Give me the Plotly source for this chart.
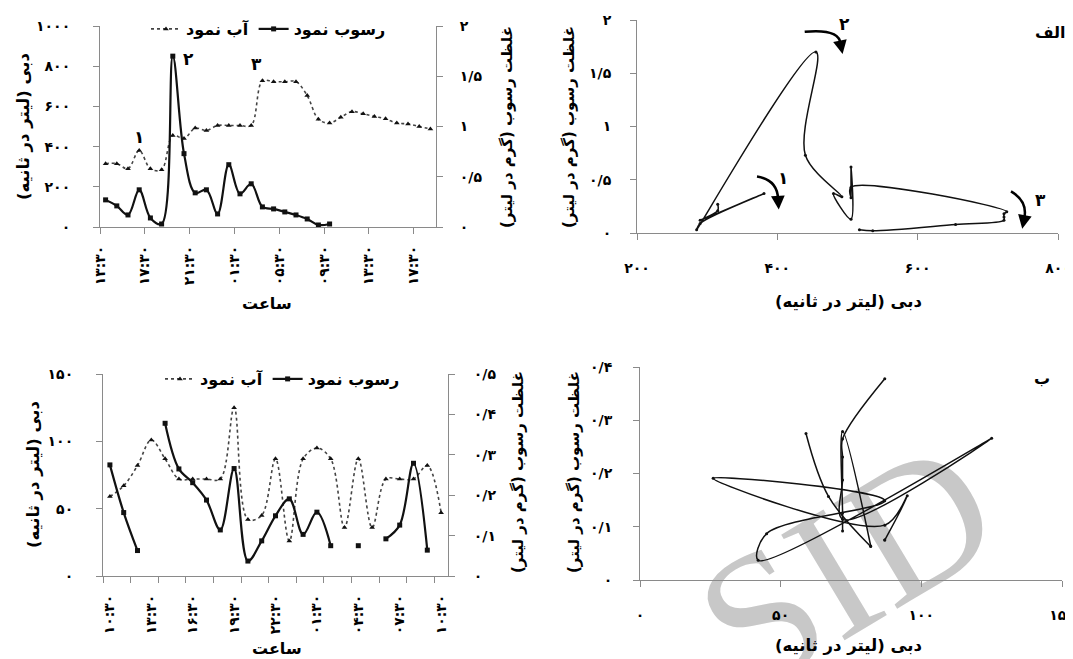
import plotly.graph_objects as go

W, H = 1073, 659          # browser window
OFF = 8                   # default page margin around the plot div
FW, FH = W - OFF, H - OFF # figure size so that it ends at the window edge
FONT = "DejaVu Sans"
AX = "#8a8a8a"

# ---------------- Event A (top row, "الف") ----------------
A_HOURS = [0.5, 1.5, 2.5, 3.5, 4.5, 5.5, 6.5, 7.5, 8.5, 9.5,
           10.5, 11.5, 12.5, 13.5, 14.5, 15.5, 16.5, 17.5, 18.5, 19.5,
           20.5, 21.5, 22.5, 23.5, 24.5, 25.5, 26.5, 27.5, 28.5, 29.5]
A_WATER = [315, 315, 290, 381, 290, 285, 455, 440, 492, 480,
           505, 505, 505, 505, 727, 723, 723, 723, 654, 536,
           517, 546, 574, 563, 550, 538, 517, 513, 500, 488]
A_SED = [0.27, 0.21, 0.12, 0.37, 0.09, 0.03, 1.70, 0.73, 0.34, 0.37,
         0.13, 0.62, 0.33, 0.43, 0.20, 0.18, 0.15, 0.12, 0.08, 0.02, 0.03]
A_TICK_HOURS = [0, 4, 8, 12, 16, 20, 24, 28]
A_TICK_LABELS = ["۱۳:۳۰", "۱۷:۳۰", "۲۱:۳۰", "۰۱:۳۰", "۰۵:۳۰", "۰۹:۳۰", "۱۳:۳۰", "۱۷:۳۰"]
A_Q_TICKS = [0, 200, 400, 600, 800, 1000]
A_Q_LABELS = ["۰", "۲۰۰", "۴۰۰", "۶۰۰", "۸۰۰", "۱۰۰۰"]
A_C_TICKS = [0, 0.5, 1, 1.5, 2]
A_C_LABELS = ["۰", "۰/۵", "۱", "۱/۵", "۲"]
A_HQ_TICKS = [200, 400, 600, 800]
A_HQ_LABELS = ["۲۰۰", "۴۰۰", "۶۰۰", "۸۰۰"]

# ---------------- Event B (bottom row, "ب") ----------------
B_HOURS = [0, 1, 2, 3, 4, 5, 6, 7, 8, 9, 10, 11, 12,
           13, 14, 15, 16, 17, 18, 19, 20, 21, 22, 23, 24]
B_WATER = [59, 67, 82, 101, 87, 72, 72, 72, 72, 125, 42, 45, 87,
           26, 87, 95, 87, 36, 87, 36, 72, 72, 72, 82, 47]
B_SED = [0.275, 0.157, 0.063, None, 0.378, 0.265, 0.231, 0.188, 0.114, 0.266, 0.037, 0.087, 0.149,
         0.191, 0.103, 0.158, 0.075, None, 0.075, None, 0.092, 0.126, 0.279, 0.064, None]
B_TICK_HOURS = [0, 3, 6, 9, 12, 15, 18, 21, 24]
B_TICK_LABELS = ["۱۰:۳۰", "۱۳:۳۰", "۱۶:۳۰", "۱۹:۳۰", "۲۲:۳۰", "۰۱:۳۰", "۰۴:۳۰", "۰۷:۳۰", "۱۰:۳۰"]
B_MINOR_TICKS = [-0.5, 1.5, 3.5, 5.5, 7.5, 9.5, 11.5, 13.5, 15.5, 17.5, 19.5, 21.5, 23.5]
B_Q_TICKS = [0, 50, 100, 150]
B_Q_LABELS = ["۰", "۵۰", "۱۰۰", "۱۵۰"]
B_C_TICKS = [0, 0.1, 0.2, 0.3, 0.4, 0.5]
B_C_LABELS = ["۰", "۰/۱", "۰/۲", "۰/۳", "۰/۴", "۰/۵"]

NAME_WATER = "آب نمود"
NAME_SED = "رسوب نمود"
TITLE_Q = "دبی (لیتر در ثانیه)"
TITLE_C = "غلظت رسوب (گرم در لیتر)"
TITLE_T = "ساعت"


def X(px):
    return (px - OFF) / FW


def Y(py):
    return 1 - (py - OFF) / FH


fig = go.Figure()

water_style = dict(mode="lines+markers", line=dict(color="#444444", width=1.6, dash="dot", shape="spline"),
                   marker=dict(symbol="triangle-up", size=5, color="#111111"))
sed_style = dict(mode="lines+markers", line=dict(color="#111111", width=2.2, shape="spline"),
                 marker=dict(symbol="square", size=5, color="#111111"))
hyst_style = dict(mode="lines+markers", line=dict(color="#111111", width=1.5, shape="spline"),
                  marker=dict(symbol="circle", size=3, color="#111111"), showlegend=False)

fig.add_trace(go.Scatter(x=A_HOURS, y=A_WATER, name=NAME_WATER, xaxis="x", yaxis="y", legend="legend", **water_style))
fig.add_trace(go.Scatter(x=A_HOURS[:len(A_SED)], y=A_SED, name=NAME_SED, xaxis="x", yaxis="y2", legend="legend", **sed_style))
fig.add_trace(go.Scatter(x=A_WATER[:len(A_SED)], y=A_SED, xaxis="x2", yaxis="y3", **hyst_style))
fig.add_trace(go.Scatter(x=B_HOURS, y=B_WATER, name=NAME_WATER, xaxis="x3", yaxis="y4", legend="legend2", **water_style))
fig.add_trace(go.Scatter(x=B_HOURS, y=B_SED, name=NAME_SED, xaxis="x3", yaxis="y5", legend="legend2",
                         connectgaps=False, **sed_style))
fig.add_trace(go.Scatter(x=B_WATER, y=B_SED, xaxis="x4", yaxis="y6", connectgaps=False, **hyst_style))

tickfont = dict(family=FONT, size=14, color="black", weight="bold")
base = dict(showline=True, linecolor=AX, linewidth=1, ticks="outside", ticklen=6, tickcolor=AX,
            showgrid=False, zeroline=False, tickfont=tickfont, tickmode="array", fixedrange=True,
            automargin=False, ticklabeloverflow="allow")

fig.update_layout(
    width=FW, height=FH, margin=dict(l=0, r=0, t=0, b=0, autoexpand=False),
    paper_bgcolor="white", plot_bgcolor="rgba(0,0,0,0)",
    font=dict(family=FONT, color="black"),
    xaxis=dict(base, domain=[X(100), X(436)], anchor="y", range=[0, 30],
               tickvals=A_TICK_HOURS, ticktext=A_TICK_LABELS, tickangle=-90, ticklabelstandoff=6),
    yaxis=dict(base, domain=[Y(227), Y(26)], anchor="x", range=[0, 1000],
               tickvals=A_Q_TICKS, ticktext=A_Q_LABELS, ticklabelstandoff=20),
    yaxis2=dict(base, overlaying="y", side="right", anchor="x", range=[0, 2],
                tickvals=A_C_TICKS, ticktext=A_C_LABELS, ticklabelstandoff=14),
    xaxis2=dict(base, domain=[X(637), X(1058)], anchor="y3", range=[200, 800],
                tickvals=A_HQ_TICKS, ticktext=A_HQ_LABELS, ticklabelstandoff=16),
    yaxis3=dict(base, domain=[Y(233), Y(20)], anchor="x2", range=[0, 2],
                tickvals=A_C_TICKS, ticktext=A_C_LABELS, ticklabelstandoff=16),
    xaxis3=dict(base, domain=[X(103), X(448)], anchor="y4", range=[-0.5, 24.5],
                tickvals=B_TICK_HOURS, ticktext=B_TICK_LABELS, tickangle=-90, ticks="",
                ticklabelstandoff=12,
                minor=dict(tickmode="array", tickvals=B_MINOR_TICKS, ticks="outside", ticklen=6,
                           tickcolor=AX, showgrid=False)),
    yaxis4=dict(base, domain=[Y(576), Y(374)], anchor="x3", range=[0, 150],
                tickvals=B_Q_TICKS, ticktext=B_Q_LABELS, ticklabelstandoff=20),
    yaxis5=dict(base, overlaying="y4", side="right", anchor="x3", range=[0, 0.5],
                tickvals=B_C_TICKS, ticktext=B_C_LABELS, ticklabelstandoff=16),
    xaxis4=dict(base, domain=[X(640), X(1062)], anchor="y6", range=[0, 150],
                tickvals=B_Q_TICKS, ticktext=B_Q_LABELS, ticklabelstandoff=16),
    yaxis6=dict(base, domain=[Y(580), Y(367)], anchor="x4", range=[0, 0.4],
                tickvals=B_C_TICKS[:5], ticktext=B_C_LABELS[:5], ticklabelstandoff=18),
    legend=dict(orientation="h", x=X(146), xanchor="left", y=Y(29), yanchor="middle",
                font=dict(family=FONT, size=16, weight="bold"), bgcolor="rgba(0,0,0,0)",
                itemwidth=30, traceorder="normal"),
    legend2=dict(orientation="h", x=X(160), xanchor="left", y=Y(379), yanchor="middle",
                 font=dict(family=FONT, size=16, weight="bold"), bgcolor="rgba(0,0,0,0)",
                 itemwidth=30, traceorder="normal"),
)

ann = []


def title(text, px, py, angle=0, size=16):
    ann.append(dict(text=text, x=X(px), y=Y(py), xref="paper", yref="paper", showarrow=False,
                    textangle=angle, font=dict(family=FONT, size=size, color="black", weight="bold"),
                    xanchor="center", yanchor="middle"))


title(TITLE_Q, 24, 127, -90, 16.5)
title(TITLE_C, 507, 127, -90, 15)
title(TITLE_T, 267, 303)
title(TITLE_C, 569, 127, -90, 15)
title(TITLE_Q, 848, 302, 0, 16.5)
title(TITLE_Q, 34, 475, -90, 16.5)
title(TITLE_C, 518, 472, -90, 15)
title(TITLE_T, 277, 648)
title(TITLE_C, 574, 472, -90, 15)
title(TITLE_Q, 848, 646, 0, 16.5)

num_font = dict(family=FONT, size=17, color="black", weight="bold")
lab_font = dict(family=FONT, size=16, color="black", weight="bold")
# event peak numbers on the time series (data coordinates)
for txt, hx, qv in [("۱", 3.5, 450), ("۲", 7.9, 835), ("۳", 14.0, 810)]:
    ann.append(dict(text=txt, x=hx, y=qv, xref="x", yref="y", showarrow=False, font=num_font))
# hysteresis numbers + panel letters
for txt, qx, cy in [("۱", 408, 0.52), ("۲", 496, 1.96), ("۳", 775, 0.31)]:
    ann.append(dict(text=txt, x=qx, y=cy, xref="x2", yref="y3", showarrow=False, font=num_font))
ann.append(dict(text="الف", x=789, y=1.88, xref="x2", yref="y3", showarrow=False, font=lab_font))
ann.append(dict(text="ب", x=143, y=0.378, xref="x4", yref="y6", showarrow=False, font=lab_font))

# curved arrows: path body + arrow head
arrows = [  # start, control, end, head-from
    ((371, 0.53), (400, 0.50), (402, 0.22), (401, 0.32)),
    ((439, 1.89), (488, 1.92), (493, 1.68), (490, 1.78)),
    ((733, 0.39), (757, 0.30), (749, 0.04), (752, 0.14)),
]
shapes = []
for (sx, sy), (cx, cy), (ex, ey), (hx, hy) in arrows:
    shapes.append(dict(type="path", xref="x2", yref="y3",
                       path=f"M {sx},{sy} Q {cx},{cy} {hx},{hy}",
                       line=dict(color="black", width=2.5)))
    ann.append(dict(x=ex, y=ey, ax=hx, ay=hy, xref="x2", yref="y3", axref="x2", ayref="y3",
                    text="", showarrow=True, arrowhead=2, arrowsize=1.1, arrowwidth=2.5,
                    arrowcolor="black", standoff=0))

# watermark
shapes.append(dict(type="rect", xref="paper", yref="paper", x0=X(826), x1=X(846), y0=Y(558), y1=Y(538),
                   line=dict(width=0), fillcolor="rgba(0,0,0,0)", layer="below",
                   label=dict(text="SID", textangle=-31, textposition="middle center",
                              font=dict(family="Liberation Serif", size=188, color="#c8c8c8"))))

fig.update_layout(annotations=ann, shapes=shapes)
fig.write_html("out.html")
